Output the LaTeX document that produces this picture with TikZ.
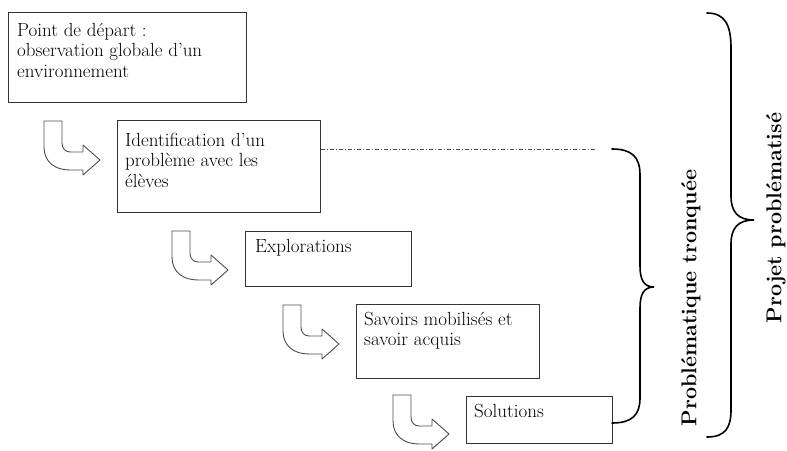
\documentclass[tikz,border=0pt]{standalone}
\usepackage{fontspec}
\begin{document}
\begin{tikzpicture}[x=1pt,y=-1pt,
        stage/.style={draw=black!80,line width=1.2pt,anchor=north west,inner sep=0pt},
        stagetext/.style={anchor=north west,inner sep=0pt,align=left,font=\fontsize{19}{20.5}\selectfont},
        uturn/.style={draw=black!70,line width=.9pt,line join=round},
        bracket/.style={line width=1.6pt,line cap=round},
        bracelabel/.style={rotate=90,inner sep=0pt,font=\fontsize{21.5}{25}\selectfont\bfseries}]
            \useasboundingbox (0,0) rectangle (787,450);
            \node[stage,minimum width=238pt,minimum height=90pt] (pd) at (8,12) {};
            \node[stage,minimum width=203pt,minimum height=92pt] (idf) at (117,120) {};
            \node[stage,minimum width=166pt,minimum height=55pt] (exp) at (245,231) {};
            \node[stage,minimum width=183pt,minimum height=74pt] (sav) at (356,304) {};
            \node[stage,minimum width=146pt,minimum height=47pt] (sol) at (466,396) {};
            \node[stagetext] (pdtext) at (17,22.8) {Point de départ :\\observation globale d’un\\environnement};
            \node[stagetext] (idftext) at (125,132.8) {Identification d’un\\problème avec les\\élèves};
            \node[stagetext] (exptext) at (255,239.3) {Explorations};
            \node[stagetext] (savtext) at (364,311.8) {Savoirs mobilisés et\\savoir acquis};
            \node[stagetext] (soltext) at (474,403.8) {Solutions};
            \foreach \ax/\ay in {44/121,172/231,283/305,393/395}
            {
                \draw[uturn,shift={(\ax,\ay)}] (0,0) -- (0,26) .. controls (0,41) and (11,49) .. (26,49) -- (39,49) -- (39,54) -- (56,39) -- (39,24) -- (39,31) -- (26,31) .. controls (21,31) and (18,27) .. (18,22) -- (18,0) -- cycle;
            }
            \coordinate (dd) at (596,149);
            \draw[black!70,line width=1pt,dash pattern=on 4pt off 2pt on 1pt off 2pt] (idf.east |- dd) -- (dd);
            \draw[bracket] (612,149) .. controls (632,149) and (640,157) .. (640,175) -- (640,266) .. controls (640,280) and (644,287) .. (654,287) .. controls (644,287) and (640,294) .. (640,308) -- (640,398) .. controls (640,415) and (632,423) .. (612,423);
            \draw[bracket] (707,13) .. controls (725,13) and (731,25) .. (731,48) -- (731,196) .. controls (731,212) and (738,220) .. (754,220) .. controls (738,220) and (731,228) .. (731,244) -- (731,410) .. controls (731,428) and (725,437) .. (707,437);
            \node[bracelabel] (pt) at (691,298) {Problématique tronquée};
            \node[bracelabel] (pp) at (776,218) {Projet problématisé};
        \end{tikzpicture}
\end{document}
